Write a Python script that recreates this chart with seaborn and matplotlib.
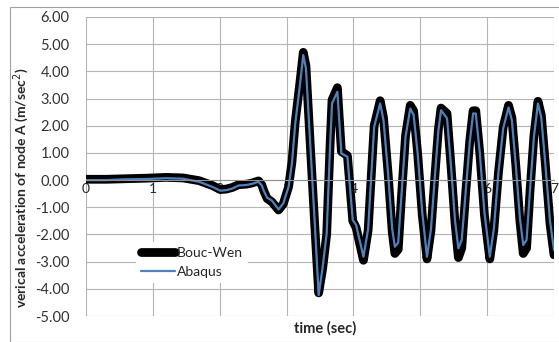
import pandas as pd
import matplotlib
matplotlib.use("Agg")
import matplotlib.pyplot as plt
import seaborn as sns
from matplotlib.patches import Rectangle

# ---------------------------
# DATA
# ---------------------------
time_sec = [0.00, 0.30, 0.60, 0.90, 1.20, 1.45, 1.69, 1.89, 2.01, 2.10,
            2.19, 2.28, 2.40, 2.48, 2.58, 2.63, 2.66, 2.71, 2.78, 2.88,
            2.95, 3.03, 3.08, 3.13, 3.20, 3.25, 3.29, 3.35, 3.42, 3.48,
            3.54, 3.60, 3.65, 3.68, 3.76, 3.82, 3.91, 3.99, 4.04, 4.15,
            4.22, 4.27, 4.31, 4.40, 4.45, 4.52, 4.58, 4.62, 4.67, 4.72,
            4.78, 4.85, 4.90, 4.96, 5.03, 5.10, 5.16, 5.22, 5.27, 5.31,
            5.40, 5.46, 5.52, 5.57, 5.62, 5.68, 5.74, 5.79, 5.83, 5.89,
            5.96, 6.04, 6.10, 6.17, 6.24, 6.32, 6.37, 6.43, 6.49, 6.54,
            6.59, 6.64, 6.70, 6.76, 6.81, 6.87, 6.94, 7.00]

bouc_wen = [0.03, 0.03, 0.05, 0.07, 0.10, 0.08, -0.02, -0.20, -0.35, -0.33,
            -0.27, -0.17, -0.15, -0.11, -0.03, -0.18, -0.40, -0.68, -0.80, -1.10,
            -0.88, -0.25, 0.65, 2.15, 3.60, 4.70, 4.20, 1.50, -1.60, -4.15,
            -3.25, -2.00, 1.25, 2.95, 3.40, 1.05, 0.90, -1.50, -1.75, -2.95,
            -1.85, 0.30, 2.00, 2.92, 2.30, 0.20, -1.90, -2.70, -2.55, -0.55,
            1.65, 2.75, 2.55, 1.00, -1.30, -2.90, -1.85, 0.20, 1.85, 2.65,
            2.45, 0.50, -1.60, -2.85, -2.50, -0.45, 1.45, 2.55, 2.55, 1.00,
            -1.30, -2.90, -1.85, 0.30, 1.95, 2.75, 2.30, 0.50, -1.50, -2.70,
            -2.50, -0.45, 1.65, 2.90, 2.40, 0.60, -1.60, -2.75]

abaqus = [0.00, 0.00, 0.03, 0.04, 0.07, 0.05, -0.06, -0.25, -0.39, -0.37,
          -0.31, -0.20, -0.18, -0.14, -0.06, -0.20, -0.40, -0.65, -0.75, -1.08,
          -0.86, -0.25, 0.61, 2.08, 3.50, 4.60, 4.10, 1.50, -1.50, -4.23,
          -3.20, -1.96, 1.22, 2.82, 3.25, 0.98, 0.86, -1.47, -1.65, -2.82,
          -1.80, 0.30, 1.96, 2.82, 2.20, 0.20, -1.80, -2.45, -2.30, -0.50,
          1.60, 2.63, 2.40, 1.00, -1.20, -2.82, -1.80, 0.20, 1.80, 2.57,
          2.27, 0.50, -1.50, -2.51, -2.20, -0.40, 1.40, 2.45, 2.45, 1.00,
          -1.20, -2.82, -1.80, 0.30, 1.90, 2.67, 2.20, 0.50, -1.40, -2.39,
          -2.20, -0.40, 1.60, 2.82, 2.30, 0.60, -1.50, -2.57]

x_ticks = [0, 1, 2, 3, 4, 5, 6, 7]
y_ticks = [6, 5, 4, 3, 2, 1, 0, -1, -2, -3, -4, -5]


def main():
    sns.set_style("white")
    plt.rcParams["font.family"] = ["Lato", "DejaVu Sans"]

    df = pd.DataFrame({"time": time_sec, "Bouc-Wen": bouc_wen, "Abaqus": abaqus})

    fig = plt.figure(figsize=(5.59, 3.42), dpi=100)
    # Excel-like chart border
    fig.patches.append(Rectangle((10 / 559, 0.0), 1.0, 1 - 7 / 342, transform=fig.transFigure,
                                 fill=False, edgecolor="#a0a0a0", linewidth=0.8))
    ax = fig.add_axes([86 / 559, 26 / 342, 468 / 559, 299 / 342])

    sns.lineplot(data=df, x="time", y="Bouc-Wen", ax=ax, color="black", linewidth=6.3,
                 sort=False, label="Bouc-Wen", solid_capstyle="round", solid_joinstyle="round")
    sns.lineplot(data=df, x="time", y="Abaqus", ax=ax, color="#4f81bd", linewidth=1.6,
                 sort=False, label="Abaqus")

    ax.set_xlim(0, 7)
    ax.set_ylim(-5, 6)
    ax.set_xticks(x_ticks)
    ax.set_yticks(y_ticks)
    ax.set_yticklabels([f"{v:.2f}" for v in y_ticks], fontsize=10.5, color="#333333")
    ax.set_xticklabels([str(v) for v in x_ticks], fontsize=8.5, color="#808080")
    ax.grid(True, color="#b4b4b4", linewidth=0.8)
    ax.set_axisbelow(True)

    for side in ["top", "right", "left"]:
        ax.spines[side].set_visible(False)
    # horizontal axis crosses at zero, labels sit just under it
    ax.spines["bottom"].set_position(("data", 0))
    ax.spines["bottom"].set_color("#909090")
    ax.spines["bottom"].set_linewidth(0.8)
    ax.tick_params(axis="y", length=0, pad=12)
    ax.tick_params(axis="x", length=0, pad=2)

    ax.set_ylabel("verical acceleration of node A (m/sec$^2$)", fontsize=10,
                  fontweight="bold")
    ax.yaxis.set_label_coords(-0.118, 0.43)
    ax.set_xlabel("time (sec)", fontsize=10.5, fontweight="bold")
    ax.xaxis.set_label_coords(0.51, -0.018)

    leg = ax.legend(loc="upper left", bbox_to_anchor=(0.093, 0.27), fontsize=10,
                    handlelength=2.4, handletextpad=0.15, borderpad=0.35,
                    labelspacing=0.5, frameon=True, fancybox=False)
    leg.get_frame().set_facecolor("white")
    leg.get_frame().set_edgecolor("none")
    leg.get_frame().set_alpha(1.0)

    fig.savefig("out.png", dpi=100)
    plt.close(fig)


if __name__ == "__main__":
    main()
